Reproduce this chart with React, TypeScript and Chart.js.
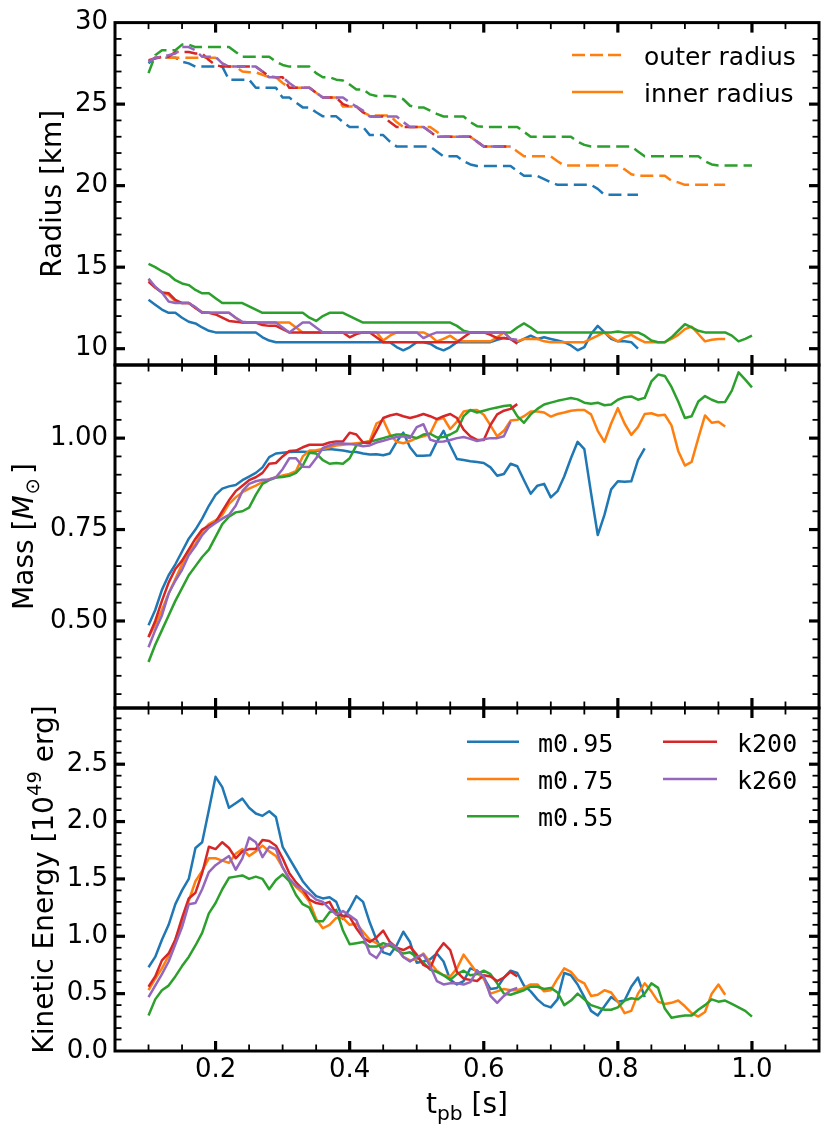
import React, { useEffect, useRef } from 'react';
import { Chart, registerables } from 'chart.js';

Chart.register(...registerables);

const PAGE_W = 831;
const PAGE_H = 1134;
const PLOT_LEFT = 115;
const PLOT_RIGHT = 819;
const FONT = '"DejaVu Sans"';
const MONO = '"DejaVu Sans Mono"';

// post-bounce time grid [s]
const tpb = [
  0.10, 0.11, 0.12, 0.13, 0.14, 0.15, 0.16, 0.17, 0.18, 0.19,
  0.20, 0.21, 0.22, 0.23, 0.24, 0.25, 0.26, 0.27, 0.28, 0.29,
  0.30, 0.31, 0.32, 0.33, 0.34, 0.35, 0.36, 0.37, 0.38, 0.39,
  0.40, 0.41, 0.42, 0.43, 0.44, 0.45, 0.46, 0.47, 0.48, 0.49,
  0.50, 0.51, 0.52, 0.53, 0.54, 0.55, 0.56, 0.57, 0.58, 0.59,
  0.60, 0.61, 0.62, 0.63, 0.64, 0.65, 0.66, 0.67, 0.68, 0.69,
  0.70, 0.71, 0.72, 0.73, 0.74, 0.75, 0.76, 0.77, 0.78, 0.79,
  0.80, 0.81, 0.82, 0.83, 0.84, 0.85, 0.86, 0.87, 0.88, 0.89,
  0.90, 0.91, 0.92, 0.93, 0.94, 0.95, 0.96, 0.97, 0.98, 0.99, 1.00,
];

const timeTicks = [0.2, 0.4, 0.6, 0.8, 1.0];
const radiusTicks = [10, 15, 20, 25, 30];
const massTicks = [0.5, 0.75, 1.0];
const energyTicks = [0, 0.5, 1.0, 1.5, 2.0, 2.5];

const models = ['m0.95', 'm0.75', 'm0.55', 'k200', 'k260'];
const colors = ['#1f77b4', '#ff7f0e', '#2ca02c', '#d62728', '#9467bd'];

// outer radius [km]
const outerM095 = [
  27.5, 27.85, 27.85, 27.85, 27.85, 27.6, 27.5, 27.3, 27.3, 27.3,
  27.3, 27.3, 26.5, 26.5, 26.5, 26.5, 26.0, 26.0, 26.0, 26.0,
  25.4, 25.4, 25.1, 24.8, 24.8, 24.5, 24.25, 24.25, 24.25, 23.9,
  23.6, 23.6, 23.6, 23.1, 23.1, 23.1, 22.7, 22.4, 22.4, 22.4,
  22.4, 22.4, 22.4, 22.1, 21.8, 21.8, 21.8, 21.5, 21.3, 21.2,
  21.2, 21.2, 21.2, 21.2, 21.2, 20.9, 20.6, 20.6, 20.6, 20.4,
  20.2, 20.05, 20.05, 20.05, 20.05, 20.05, 20.05, 19.8, 19.44, 19.44,
  19.44, 19.44, 19.44, 19.44,
];
const outerM075 = [
  27.6, 27.85, 27.85, 27.85, 27.85, 27.85, 27.85, 27.85, 27.85, 27.85,
  27.85, 27.5, 27.3, 27.3, 27.0, 26.95, 26.95, 26.8, 26.65, 26.65,
  26.3, 26.0, 26.0, 26.0, 26.0, 25.7, 25.4, 25.4, 25.4, 24.85,
  24.85, 24.85, 24.5, 24.3, 24.3, 24.3, 24.3, 23.9, 23.6, 23.6,
  23.6, 23.6, 23.6, 23.3, 23.0, 23.0, 23.0, 23.0, 23.0, 22.7,
  22.4, 22.4, 22.4, 22.4, 22.4, 22.1, 21.8, 21.8, 21.8, 21.8,
  21.8, 21.5, 21.23, 21.23, 21.23, 21.23, 21.23, 21.23, 21.23, 21.23,
  21.23, 21.0, 20.7, 20.6, 20.6, 20.6, 20.6, 20.6, 20.3, 20.2,
  20.05, 20.05, 20.05, 20.05, 20.05, 20.05, 20.05,
];
const outerM055 = [
  26.9, 28.0, 28.3, 28.3, 28.3, 28.65, 28.65, 28.5, 28.5, 28.5,
  28.5, 28.5, 28.5, 28.2, 27.9, 27.9, 27.9, 27.9, 27.9, 27.6,
  27.4, 27.3, 27.3, 27.3, 27.3, 26.9, 26.65, 26.65, 26.5, 26.45,
  26.2, 25.9, 25.9, 25.6, 25.5, 25.5, 25.5, 25.45, 25.3, 24.9,
  24.8, 24.8, 24.6, 24.4, 24.24, 24.24, 24.24, 24.24, 23.9, 23.65,
  23.6, 23.6, 23.6, 23.6, 23.6, 23.6, 23.3, 23.0, 23.0, 23.0,
  23.0, 23.0, 23.0, 23.0, 22.7, 22.5, 22.4, 22.4, 22.4, 22.4,
  22.4, 22.4, 22.4, 22.1, 21.8, 21.8, 21.8, 21.8, 21.8, 21.8,
  21.8, 21.8, 21.8, 21.5, 21.3, 21.23, 21.23, 21.23, 21.23, 21.23, 21.23,
];
const outerK200 = [
  27.7, 27.8, 27.9, 27.9, 28.2, 28.2, 28.2, 28.1, 28.1, 27.7,
  27.4, 27.3, 27.3, 27.3, 27.3, 27.3, 27.3, 27.0, 26.7, 26.65,
  26.65, 26.0, 26.0, 26.0, 26.0, 25.7, 25.4, 25.4, 25.4, 25.0,
  24.85, 24.85, 24.5, 24.24, 24.24, 24.24, 23.9, 23.6, 23.6, 23.6,
  23.6, 23.6, 23.3, 23.0, 23.0, 23.0, 23.0, 23.0, 23.0, 22.7,
  22.4, 22.4, 22.4, 22.4, 22.4,
];
const outerK260 = [
  27.6, 27.85, 27.9, 28.0, 28.1, 28.5, 28.5, 28.3, 27.9, 27.9,
  27.9, 27.5, 27.3, 27.3, 27.3, 27.3, 27.3, 27.0, 26.65, 26.65,
  26.65, 26.3, 26.0, 26.0, 26.0, 25.7, 25.4, 25.4, 25.4, 25.4,
  25.1, 24.85, 24.6, 24.24, 24.24, 24.24, 24.24, 24.24, 23.9, 23.6,
  23.6, 23.6, 23.3, 23.0, 23.0, 23.0, 23.0, 23.0, 23.0, 22.7,
  22.4, 22.4, 22.4, 22.4, 22.4,
];

// inner radius [km]
const innerM095 = [
  13.0, 12.7, 12.4, 12.2, 12.2, 11.9, 11.65, 11.55, 11.3, 11.1,
  11.0, 11.0, 11.0, 11.0, 11.0, 11.0, 11.0, 10.7, 10.5, 10.4,
  10.4, 10.4, 10.4, 10.4, 10.4, 10.4, 10.4, 10.4, 10.4, 10.4,
  10.4, 10.4, 10.4, 10.4, 10.4, 10.4, 10.4, 10.1, 9.9, 10.1,
  10.4, 10.4, 10.3, 10.05, 9.9, 10.1, 10.4, 10.4, 10.4, 10.4,
  10.4, 10.4, 10.55, 10.65, 10.6, 10.4, 10.6, 10.8, 10.6, 10.7,
  10.6, 10.5, 10.4, 10.2, 9.9, 10.1, 10.9, 11.4, 11.0, 10.6,
  10.45, 10.45, 10.4, 10.0,
];
const innerM075 = [
  14.2, 13.75, 13.45, 13.3, 12.9, 12.8, 12.8, 12.5, 12.25, 12.2,
  12.2, 12.2, 12.2, 11.9, 11.6, 11.6, 11.6, 11.6, 11.6, 11.6,
  11.6, 11.6, 11.3, 11.0, 11.0, 11.0, 11.0, 11.0, 11.0, 11.0,
  11.0, 11.0, 11.0, 11.0, 11.0, 10.5, 10.8, 11.0, 11.0, 11.0,
  11.0, 11.0, 10.8, 10.45, 10.6, 10.8, 10.5, 10.45, 10.45, 10.45,
  10.45, 10.45, 10.7, 11.0, 10.6, 10.45, 10.6, 10.6, 10.6, 10.45,
  10.4, 10.4, 10.4, 10.4, 10.4, 10.4, 10.6, 10.8, 11.0, 10.7,
  10.45, 10.7, 10.85, 10.6, 10.4, 10.4, 10.4, 10.4, 10.6, 10.85,
  11.2, 11.35, 10.9, 10.45, 10.55, 10.6, 10.6,
];
const innerM055 = [
  15.2, 15.0, 14.75, 14.55, 14.2, 14.0, 13.9, 13.6, 13.4, 13.4,
  13.1, 12.8, 12.8, 12.8, 12.8, 12.6, 12.4, 12.2, 12.2, 12.2,
  12.2, 12.2, 12.2, 12.2, 11.9, 11.7, 12.0, 12.2, 12.2, 12.2,
  12.0, 11.8, 11.6, 11.6, 11.6, 11.6, 11.6, 11.6, 11.6, 11.6,
  11.6, 11.6, 11.6, 11.6, 11.6, 11.6, 11.4, 11.1, 11.0, 11.0,
  11.0, 11.0, 11.0, 11.0, 11.0, 11.3, 11.55, 11.3, 11.0, 11.0,
  11.0, 11.0, 11.0, 11.0, 11.0, 11.0, 11.0, 11.0, 11.0, 11.0,
  11.05, 11.0, 11.0, 11.0, 10.8, 10.5, 10.4, 10.4, 10.7, 11.1,
  11.5, 11.3, 11.1, 11.0, 11.0, 11.0, 11.0, 10.8, 10.45, 10.6, 10.8,
];
const innerK200 = [
  14.1, 13.75, 13.45, 13.4, 13.0, 12.8, 12.8, 12.5, 12.2, 12.2,
  12.1, 11.9, 11.7, 11.65, 11.6, 11.6, 11.6, 11.45, 11.4, 11.4,
  11.2, 11.0, 11.0, 11.0, 11.0, 11.0, 11.0, 11.0, 11.0, 11.0,
  10.7, 10.9, 11.0, 11.0, 10.7, 10.4, 10.4, 10.4, 10.4, 10.4,
  10.4, 10.4, 10.4, 10.4, 10.4, 10.4, 10.4, 10.7, 11.0, 11.0,
  11.0, 10.85, 10.65, 10.65, 10.6, 10.3,
];
const innerK260 = [
  14.3, 13.8, 13.45, 12.9, 12.8, 12.8, 12.8, 12.55, 12.2, 12.2,
  12.2, 12.2, 12.2, 11.9, 11.65, 11.6, 11.6, 11.6, 11.6, 11.6,
  11.3, 11.0, 11.3, 11.6, 11.6, 11.3, 11.0, 11.0, 11.0, 11.0,
  11.0, 11.0, 11.0, 11.0, 11.0, 11.0, 11.0, 11.0, 11.0, 11.0,
  11.0, 10.65, 10.85, 11.0, 11.0, 11.0, 11.0, 11.0, 11.0, 11.0,
  11.0, 11.0, 11.0, 11.0, 10.6, 10.55,
];

// enclosed mass [M_sun]
const massM095 = [
  0.488, 0.53, 0.585, 0.625, 0.655, 0.69, 0.725, 0.75, 0.78, 0.815,
  0.845, 0.862, 0.868, 0.872, 0.885, 0.895, 0.905, 0.92, 0.948, 0.958,
  0.96, 0.962, 0.963, 0.963, 0.962, 0.965, 0.968, 0.97, 0.968, 0.966,
  0.963, 0.962, 0.958, 0.955, 0.956, 0.953, 0.958, 0.99, 1.015, 0.975,
  0.952, 0.952, 0.953, 0.99, 1.02, 0.98, 0.943, 0.94, 0.937, 0.935,
  0.932, 0.92, 0.897, 0.902, 0.93, 0.923, 0.885, 0.848, 0.87, 0.875,
  0.838, 0.855, 0.895, 0.945, 0.99, 0.97, 0.85, 0.735, 0.79, 0.86,
  0.882, 0.881, 0.882, 0.94, 0.972,
];
const massM075 = [
  0.456, 0.49, 0.53, 0.575, 0.615, 0.655, 0.69, 0.71, 0.745, 0.765,
  0.775, 0.79, 0.82, 0.838, 0.852, 0.862, 0.87, 0.88, 0.888, 0.893,
  0.898, 0.902, 0.91, 0.95, 0.966, 0.967, 0.97, 0.975, 0.98, 0.982,
  0.984, 0.986, 0.988, 0.992, 1.04, 1.05, 1.01, 0.99, 0.986, 0.992,
  1.0, 1.005, 1.012, 1.05, 1.055, 1.025, 1.045, 1.073, 1.076, 1.077,
  1.064, 1.035, 1.005, 1.02, 1.048, 1.05, 1.06, 1.073, 1.073, 1.07,
  1.059, 1.066, 1.07, 1.075, 1.077, 1.077, 1.065, 1.02, 0.99, 1.04,
  1.082, 1.04, 1.009, 1.03, 1.066, 1.068, 1.062, 1.064, 1.035, 0.965,
  0.925, 0.935, 1.0, 1.062, 1.042, 1.045, 1.032,
];
const massM055 = [
  0.388, 0.435, 0.475, 0.515, 0.555, 0.59, 0.625, 0.65, 0.675, 0.695,
  0.73, 0.765, 0.785, 0.797, 0.8, 0.81, 0.845, 0.875, 0.885, 0.892,
  0.894, 0.897, 0.905, 0.925, 0.96, 0.958, 0.94, 0.93, 0.932, 0.93,
  0.945, 0.98, 0.988, 0.99, 0.995, 1.0, 1.005, 1.01, 1.01, 1.005,
  1.0, 1.01, 1.012, 1.002, 1.003, 1.01, 1.02, 1.06, 1.077, 1.07,
  1.075, 1.08, 1.084, 1.088, 1.09, 1.06, 1.042, 1.065, 1.08, 1.092,
  1.097, 1.102, 1.106, 1.11, 1.106, 1.097, 1.094, 1.097, 1.09, 1.092,
  1.105, 1.112, 1.114, 1.105, 1.11, 1.155, 1.174, 1.17, 1.14, 1.1,
  1.055, 1.06, 1.1, 1.115, 1.105, 1.098, 1.099, 1.13, 1.18, 1.16, 1.139,
];
const massK200 = [
  0.456, 0.5, 0.555, 0.605, 0.642, 0.665, 0.695, 0.725, 0.75, 0.76,
  0.77, 0.8, 0.83, 0.855, 0.87, 0.885, 0.893, 0.905, 0.93, 0.932,
  0.95, 0.965, 0.966, 0.975, 0.982, 0.982, 0.982, 0.988, 0.991, 0.991,
  1.015, 1.01, 0.988, 0.986, 1.02, 1.055, 1.062, 1.066, 1.06, 1.055,
  1.06, 1.066, 1.06, 1.052, 1.06, 1.066, 1.055, 1.023, 1.005, 0.995,
  0.995, 1.036, 1.065, 1.075, 1.08, 1.093,
];
const massK260 = [
  0.428, 0.475, 0.515, 0.575, 0.61, 0.64, 0.68, 0.705, 0.735, 0.755,
  0.768, 0.78, 0.79, 0.815, 0.855, 0.875, 0.882, 0.886, 0.887, 0.893,
  0.915, 0.945, 0.945, 0.922, 0.921, 0.945, 0.973, 0.98, 0.986, 0.985,
  0.984, 0.982, 0.978, 0.98, 0.988, 0.993, 0.998, 1.003, 1.005, 1.0,
  1.03, 1.038, 0.996, 0.99, 0.991, 0.995, 1.0, 1.003, 0.998, 0.992,
  0.997, 1.0, 1.0, 1.005, 1.045,
];

// kinetic energy [1e49 erg]
const ekinM095 = [
  0.73, 0.82, 0.97, 1.10, 1.28, 1.40, 1.50, 1.77, 1.82, 2.10,
  2.39, 2.30, 2.12, 2.16, 2.20, 2.12, 2.07, 2.05, 2.09, 2.04,
  1.78, 1.68, 1.58, 1.48, 1.41, 1.35, 1.33, 1.34, 1.30, 1.15,
  1.24, 1.35, 1.30, 1.12, 0.97, 0.86, 0.84, 0.92, 1.04, 0.95,
  0.77, 0.78, 0.80, 0.85, 0.78, 0.62, 0.58, 0.61, 0.72, 0.70,
  0.64, 0.54, 0.55, 0.64, 0.70, 0.68, 0.57, 0.52, 0.45, 0.40,
  0.38, 0.45, 0.68, 0.66, 0.58, 0.47, 0.35, 0.31, 0.39, 0.47,
  0.43, 0.44, 0.56, 0.64, 0.47,
];
const ekinM075 = [
  0.53, 0.63, 0.72, 0.83, 0.97, 1.12, 1.31, 1.48, 1.57, 1.68,
  1.68, 1.66, 1.64, 1.72, 1.76, 1.70, 1.74, 1.79, 1.74, 1.70,
  1.60, 1.50, 1.43, 1.38, 1.30, 1.15, 1.07, 1.10, 1.16, 1.16,
  1.10, 1.11, 1.04, 0.97, 0.94, 0.91, 0.92, 0.90, 0.82, 0.79,
  0.80, 0.85, 0.77, 0.70, 0.66, 0.65, 0.72, 0.84, 0.76, 0.68,
  0.63, 0.50, 0.52, 0.54, 0.53, 0.53, 0.55, 0.58, 0.58, 0.52,
  0.53, 0.63, 0.72, 0.69, 0.62, 0.59, 0.48, 0.49, 0.53, 0.51,
  0.43, 0.33, 0.35, 0.50, 0.59, 0.52, 0.43, 0.41, 0.42, 0.44,
  0.39, 0.33, 0.30, 0.34, 0.50, 0.58, 0.49,
];
const ekinM055 = [
  0.31, 0.45, 0.53, 0.57, 0.65, 0.74, 0.82, 0.92, 1.03, 1.20,
  1.29, 1.41, 1.51, 1.52, 1.53, 1.50, 1.52, 1.50, 1.41, 1.49,
  1.54, 1.48, 1.36, 1.28, 1.25, 1.13, 1.13, 1.21, 1.23, 1.05,
  0.93, 0.94, 0.95, 0.91, 0.91, 0.94, 0.92, 0.88, 0.85, 0.86,
  0.82, 0.77, 0.71, 0.69, 0.66, 0.62, 0.67, 0.70, 0.66, 0.67,
  0.70, 0.67, 0.59, 0.50, 0.49, 0.51, 0.53, 0.56, 0.56, 0.54,
  0.55, 0.51, 0.40, 0.44, 0.50, 0.45, 0.40, 0.38, 0.36, 0.36,
  0.38, 0.44, 0.46, 0.45, 0.50, 0.59, 0.55, 0.37, 0.29, 0.30,
  0.31, 0.31, 0.36, 0.40, 0.45, 0.43, 0.44, 0.41, 0.38, 0.35, 0.30,
];
const ekinK200 = [
  0.56, 0.65, 0.79, 0.85, 0.97, 1.16, 1.33, 1.38, 1.55, 1.78,
  1.76, 1.82, 1.77, 1.68, 1.74, 1.76, 1.76, 1.84, 1.83, 1.79,
  1.68, 1.55, 1.47, 1.41, 1.32, 1.29, 1.28, 1.30, 1.19, 1.18,
  1.17, 1.07, 0.99, 0.95, 0.99, 1.05, 0.95, 0.90, 0.88, 0.91,
  0.84, 0.75, 0.72, 0.86, 0.94, 0.88, 0.69, 0.63, 0.62, 0.61,
  0.66, 0.65, 0.61, 0.64, 0.69, 0.65,
];
const ekinK260 = [
  0.47, 0.57, 0.67, 0.78, 0.93, 1.08, 1.28, 1.29, 1.41, 1.56,
  1.62, 1.66, 1.70, 1.58, 1.68, 1.86, 1.82, 1.69, 1.78, 1.76,
  1.60, 1.50, 1.44, 1.41, 1.37, 1.32, 1.30, 1.24, 1.19, 1.22,
  1.18, 1.14, 1.00, 0.85, 0.81, 0.90, 0.94, 0.90, 0.82, 0.78,
  0.82, 0.84, 0.74, 0.61, 0.58, 0.59, 0.59, 0.58, 0.60, 0.70,
  0.65, 0.48, 0.42, 0.48, 0.53, 0.55,
];

type RichPart = { text: string; scale?: number; shift?: number; italic?: boolean; gap?: number };
type LegendItem = { text: string; color: string; dash?: number[]; x0: number; x1: number; tx: number; y: number; mono?: boolean };
type PanelSpec = {
  top: number;
  bottom: number;
  yMin: number;
  yMax: number;
  yTicks: number[];
  yMinor: number;
  yDigits: number;
  datasets: any[];
  title: RichPart[];
  titleX: number;
  legend: LegendItem[];
  showX: boolean;
};

const pts = (vals: number[]) => vals.map((y, i) => ({ x: tpb[i], y }));

function lineSet(vals: number[], color: string, dash: number[] = []) {
  return {
    data: pts(vals),
    borderColor: color,
    borderWidth: 2.5,
    borderDash: dash,
    borderJoinStyle: 'round',
    pointRadius: 0,
    fill: false,
    tension: 0,
  };
}

function drawRich(ctx: CanvasRenderingContext2D, parts: RichPart[], x: number, y: number, angle: number, size: number) {
  const font = (p: RichPart) => `${p.italic ? 'italic ' : ''}${(size * (p.scale ?? 1)).toFixed(1)}px ${FONT}`;
  ctx.save();
  ctx.translate(x, y);
  ctx.rotate(angle);
  ctx.textAlign = 'left';
  ctx.textBaseline = 'alphabetic';
  ctx.fillStyle = '#000';
  let total = 0;
  parts.forEach((p) => {
    ctx.font = font(p);
    total += ctx.measureText(p.text).width + (p.gap ?? 0);
  });
  let cx = -total / 2;
  parts.forEach((p) => {
    ctx.font = font(p);
    ctx.fillText(p.text, cx, (p.shift ?? 0) * size);
    cx += ctx.measureText(p.text).width + (p.gap ?? 0);
  });
  ctx.restore();
}

function framePlugin(p: PanelSpec) {
  return {
    id: 'frame',
    afterDraw(chart: any) {
      const { ctx, chartArea: a } = chart;
      const xs = chart.scales.x;
      const ys = chart.scales.y;
      ctx.save();
      ctx.strokeStyle = '#000';
      ctx.lineCap = 'butt';
      const seg = (x1: number, y1: number, x2: number, y2: number, w: number) => {
        ctx.lineWidth = w;
        ctx.beginPath();
        ctx.moveTo(x1, y1);
        ctx.lineTo(x2, y2);
        ctx.stroke();
      };
      // x ticks, inward on top and bottom
      for (let k = 2; k <= 21; k++) {
        const v = k * 0.05;
        const major = timeTicks.some((t) => Math.abs(t - v) < 1e-6);
        const px = xs.getPixelForValue(v);
        const len = major ? 10 : 6.5;
        const w = major ? 3.2 : 1.8;
        seg(px, a.bottom, px, a.bottom - len, w);
        seg(px, a.top, px, a.top + len, w);
      }
      // y ticks, inward on left and right
      const first = Math.ceil(p.yMin / p.yMinor - 1e-9);
      const last = Math.floor(p.yMax / p.yMinor + 1e-9);
      for (let k = first; k <= last; k++) {
        const v = k * p.yMinor;
        const py = ys.getPixelForValue(v);
        if (py < a.top + 1 || py > a.bottom - 1) continue;
        const major = p.yTicks.some((t) => Math.abs(t - v) < 1e-6);
        const len = major ? 10 : 6.5;
        const w = major ? 3.2 : 1.8;
        seg(a.left, py, a.left + len, py, w);
        seg(a.right, py, a.right - len, py, w);
      }
      // spines
      ctx.lineWidth = 3;
      ctx.strokeRect(a.left, a.top, a.right - a.left, a.bottom - a.top);

      // axis titles
      drawRich(ctx, p.title, p.titleX, (a.top + a.bottom) / 2, -Math.PI / 2, 28);
      if (p.showX) {
        drawRich(
          ctx,
          [{ text: 't' }, { text: 'pb', scale: 0.72, shift: 0.24 }, { text: ' [s]' }],
          (a.left + a.right) / 2,
          1113,
          0,
          28,
        );
      }

      // legend
      p.legend.forEach((item) => {
        ctx.strokeStyle = item.color;
        ctx.lineWidth = 2.5;
        ctx.setLineDash(item.dash ?? []);
        ctx.beginPath();
        ctx.moveTo(item.x0, item.y);
        ctx.lineTo(item.x1, item.y);
        ctx.stroke();
        ctx.setLineDash([]);
        ctx.fillStyle = '#000';
        ctx.font = `25px ${item.mono ? MONO : FONT}`;
        ctx.textAlign = 'left';
        ctx.textBaseline = 'alphabetic';
        ctx.fillText(item.text, item.tx, item.y + 10);
      });
      ctx.restore();
    },
  };
}

function makeConfig(p: PanelSpec) {
  return {
    type: 'line',
    data: { datasets: p.datasets },
    options: {
      animation: false,
      responsive: false,
      events: [],
      layout: {
        padding: { left: 0, right: PAGE_W - PLOT_RIGHT, top: p.top, bottom: p.showX ? 0 : PAGE_H - p.bottom },
      },
      plugins: { legend: { display: false }, tooltip: { enabled: false } },
      scales: {
        x: {
          type: 'linear',
          min: 0.05,
          max: 1.1,
          display: p.showX,
          grid: { display: false, drawTicks: false },
          border: { display: false },
          afterBuildTicks: (s: any) => {
            s.ticks = timeTicks.map((v) => ({ value: v }));
          },
          afterFit: (s: any) => {
            s.height = p.showX ? PAGE_H - p.bottom : 0;
          },
          ticks: {
            color: '#000',
            font: { family: FONT, size: 26 },
            padding: 4,
            maxRotation: 0,
            minRotation: 0,
            autoSkip: false,
            callback: (v: any) => Number(v).toFixed(1),
          },
        },
        y: {
          type: 'linear',
          min: p.yMin,
          max: p.yMax,
          grid: { display: false, drawTicks: false },
          border: { display: false },
          afterBuildTicks: (s: any) => {
            s.ticks = p.yTicks.map((v) => ({ value: v }));
          },
          afterFit: (s: any) => {
            s.width = PLOT_LEFT;
          },
          ticks: {
            color: '#000',
            font: { family: FONT, size: 26 },
            padding: 7,
            autoSkip: false,
            callback: (v: any) => Number(v).toFixed(p.yDigits),
          },
        },
      },
    },
    plugins: [framePlugin(p)],
  };
}

const outerSeries = [outerM095, outerM075, outerM055, outerK200, outerK260];
const innerSeries = [innerM095, innerM075, innerM055, innerK200, innerK260];
const massSeries = [massM095, massM075, massM055, massK200, massK260];
const ekinSeries = [ekinM095, ekinM075, ekinM055, ekinK200, ekinK260];

// Chart.js paints dataset 0 last, so reverse to keep the later models on top
const radiusSpec: PanelSpec = {
  top: 22,
  bottom: 365,
  yMin: 9,
  yMax: 30,
  yTicks: radiusTicks,
  yMinor: 1,
  yDigits: 0,
  datasets: models
    .flatMap((_, i) => [lineSet(outerSeries[i], colors[i], [13, 6]), lineSet(innerSeries[i], colors[i])])
    .reverse(),
  title: [{ text: 'Radius [km]' }],
  titleX: 61,
  legend: [
    { text: 'outer radius', color: colors[1], dash: [13, 5], x0: 572, x1: 623, tx: 644, y: 55 },
    { text: 'inner radius', color: colors[1], x0: 572, x1: 623, tx: 644, y: 92 },
  ],
  showX: false,
};

const massSpec: PanelSpec = {
  top: 365,
  bottom: 708,
  yMin: 0.262,
  yMax: 1.2,
  yTicks: massTicks,
  yMinor: 0.05,
  yDigits: 2,
  datasets: models.map((_, i) => lineSet(massSeries[i], colors[i])).reverse(),
  title: [
    { text: 'Mass [' },
    { text: 'M', italic: true, gap: 1 },
    { text: '\u2299', scale: 0.7, shift: 0.22, gap: 4 },
    { text: ']' },
  ],
  titleX: 33,
  legend: [],
  showX: false,
};

const energySpec: PanelSpec = {
  top: 708,
  bottom: 1051,
  yMin: 0,
  yMax: 2.99,
  yTicks: energyTicks,
  yMinor: 0.1,
  yDigits: 1,
  datasets: models.map((_, i) => lineSet(ekinSeries[i], colors[i])).reverse(),
  title: [{ text: 'Kinetic Energy [10' }, { text: '49', scale: 0.7, shift: -0.42 }, { text: ' erg]' }],
  titleX: 52.5,
  legend: [
    { text: models[0], color: colors[0], x0: 467, x1: 519, tx: 538, y: 741.7, mono: true },
    { text: models[1], color: colors[1], x0: 467, x1: 519, tx: 538, y: 779, mono: true },
    { text: models[2], color: colors[2], x0: 467, x1: 519, tx: 538, y: 816.3, mono: true },
    { text: models[3], color: colors[3], x0: 663, x1: 717, tx: 737, y: 741.7, mono: true },
    { text: models[4], color: colors[4], x0: 663, x1: 717, tx: 737, y: 779, mono: true },
  ],
  showX: true,
};

function Panel({ spec }: { spec: PanelSpec }) {
  const canvasRef = useRef<HTMLCanvasElement | null>(null);

  useEffect(() => {
    const ctx = canvasRef.current?.getContext('2d');
    if (!ctx) return;
    const chart = new Chart(ctx, makeConfig(spec) as any);
    return () => {
      chart.destroy();
    };
  }, [spec]);

  return (
    <canvas
      ref={canvasRef}
      width={PAGE_W}
      height={PAGE_H}
      style={{ position: 'absolute', left: 0, top: 0, width: PAGE_W, height: PAGE_H }}
    />
  );
}

export default function App() {
  return (
    <div style={{ position: 'absolute', left: 0, top: 0, width: PAGE_W, height: PAGE_H, background: '#fff' }}>
      <Panel spec={radiusSpec} />
      <Panel spec={massSpec} />
      <Panel spec={energySpec} />
    </div>
  );
}
